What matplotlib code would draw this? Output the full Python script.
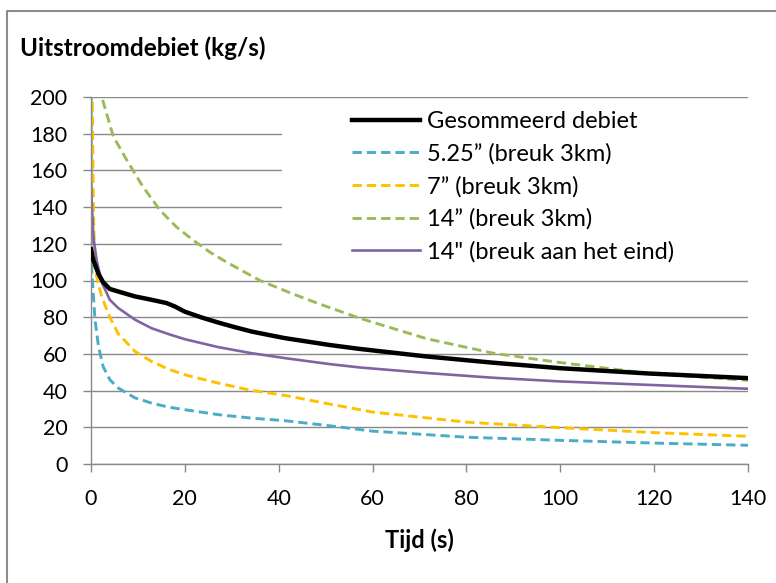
import matplotlib
matplotlib.use("Agg")
import matplotlib.pyplot as plt
from matplotlib.lines import Line2D
from matplotlib.patches import Rectangle

plt.rcParams['font.family'] = ['Lato', 'DejaVu Sans']

# Outflow (kg/s) over time (s) for each case
t_sum = [0, 0.5, 1.6, 2.6, 4, 5.8, 9.4, 12.9, 16.1, 17.9, 20, 23.5, 27.1, 30.6,
         34.2, 37.7, 41.3, 51, 57.3, 71.5, 85.7, 100, 119, 140]
q_sum = [117, 111, 103.6, 99, 95.4, 94, 91.3, 89.5, 87.7, 85.8, 83, 79.9, 77.1, 74.6,
         72.2, 70.4, 68.6, 64.8, 62.7, 58.6, 55.2, 52.2, 49.3, 46.8]

t_525 = [0, 0.15, 0.85, 1.6, 2.6, 4, 5.8, 9.4, 12.9, 16.5, 20, 27.1, 34.2, 41.3,
         51, 60, 80, 100, 120, 140]
q_525 = [210, 106, 78.6, 64, 53, 46, 41.4, 36, 33.2, 31, 29.6, 26.9, 25, 23.6,
         20.8, 17.9, 14.6, 12.9, 11.4, 10.2]

t_7 = [0.25, 0.5, 0.85, 1.5, 2.3, 4, 5.8, 9.4, 12.9, 16.5, 20, 27.1, 34.2, 41.3,
       51.6, 60, 80, 100, 120, 140]
q_7 = [205, 140, 106, 99, 91, 80, 71, 61.3, 55.9, 51.7, 48.6, 44.1, 40.1, 37.4,
       32.3, 28.3, 22.8, 19.8, 17.1, 15.1]

t_14 = [1.8, 2.3, 4.75, 7.6, 11.1, 14.7, 18.2, 21.8, 25.3, 28.9, 36, 43, 48.7, 57.3,
        71.5, 85.7, 99, 119, 140]
q_14 = [206, 200, 178.5, 165.7, 151, 138.3, 129.2, 121.9, 115.5, 110, 100, 92.7, 87.2, 79.4,
        68.3, 60.4, 55.6, 49.3, 45.6]

t_14e = [0, 0.5, 1.2, 2.3, 4, 5.8, 9.4, 12.9, 16.5, 20, 27.1, 34.2, 41.3, 51,
         57.3, 71.5, 85.7, 100, 119, 140]
q_14e = [151, 124, 111, 99, 89.5, 85, 78.6, 74, 70.8, 68, 63.7, 60.4, 57.7, 54.4,
         52.6, 49.6, 47, 45, 43.1, 41.0]

labels = ["Gesommeerd debiet", "5.25\u201d (breuk 3km)", "7\u201d (breuk 3km)",
          "14\u201d (breuk 3km)", "14\" (breuk aan het eind)"]

x_ticks = [0, 20, 40, 60, 80, 100, 120, 140]
y_ticks = [0, 20, 40, 60, 80, 100, 120, 140, 160, 180, 200]

W, H = 776, 583
fig = plt.figure(figsize=(W / 100, H / 100), dpi=100)
ax = fig.add_axes([91 / W, 1 - 464 / H, (748 - 91) / W, (464 - 97) / H])

grey = '#898989'
dash = (0, (3.2, 1.7))

ax.plot(t_sum, q_sum, color='black', lw=3.2, label=labels[0], zorder=3)
ax.plot(t_525, q_525, color='#4BACC6', lw=2.1, ls=dash, label=labels[1], zorder=2)
ax.plot(t_7, q_7, color='#FFC000', lw=2.1, ls=dash, label=labels[2], zorder=2)
ax.plot(t_14, q_14, color='#9BBB59', lw=2.1, ls=dash, label=labels[3], zorder=2)
ax.plot(t_14e, q_14e, color='#8064A2', lw=1.9, label=labels[4], zorder=2)

ax.set_xlim(0, 140)
ax.set_ylim(0, 200)
ax.set_xticks(x_ticks)
ax.set_yticks(y_ticks)

ax.set_axisbelow(True)
ax.yaxis.grid(True, color=grey, lw=1.0)
for side in ('top', 'right'):
    ax.spines[side].set_visible(False)
for side in ('left', 'bottom'):
    ax.spines[side].set_color(grey)
    ax.spines[side].set_linewidth(1.0)
ax.tick_params(axis='both', direction='out', length=6, width=1.0, color=grey,
               labelsize=15.5, labelcolor='black')
ax.tick_params(axis='y', pad=11)
ax.tick_params(axis='x', pad=12)

# white legend background over the gridlines
ax.add_patch(Rectangle((0.29, 0.535), 0.71, 0.45, transform=ax.transAxes,
                       facecolor='white', edgecolor='none', zorder=1))

leg = ax.legend(loc='upper left', bbox_to_anchor=(0.397, 0.962), frameon=False,
                fontsize=17, handlelength=2.9, handletextpad=0.3,
                labelspacing=0.47, borderaxespad=0, borderpad=0)

ax.set_xlabel("Tijd (s)", fontsize=17, fontweight='bold', labelpad=14)
fig.text(20 / W, 1 - 48 / H, "Uitstroomdebiet (kg/s)", fontsize=17.5,
         fontweight='bold', va='center', ha='left')

# chart border
fig.add_artist(Line2D([7 / W, 7 / W, 1.0], [0.0, 1 - 11 / H, 1 - 11 / H],
                      transform=fig.transFigure, color='#8c8c8c', lw=1.5))

fig.savefig("out.png", dpi=100)
